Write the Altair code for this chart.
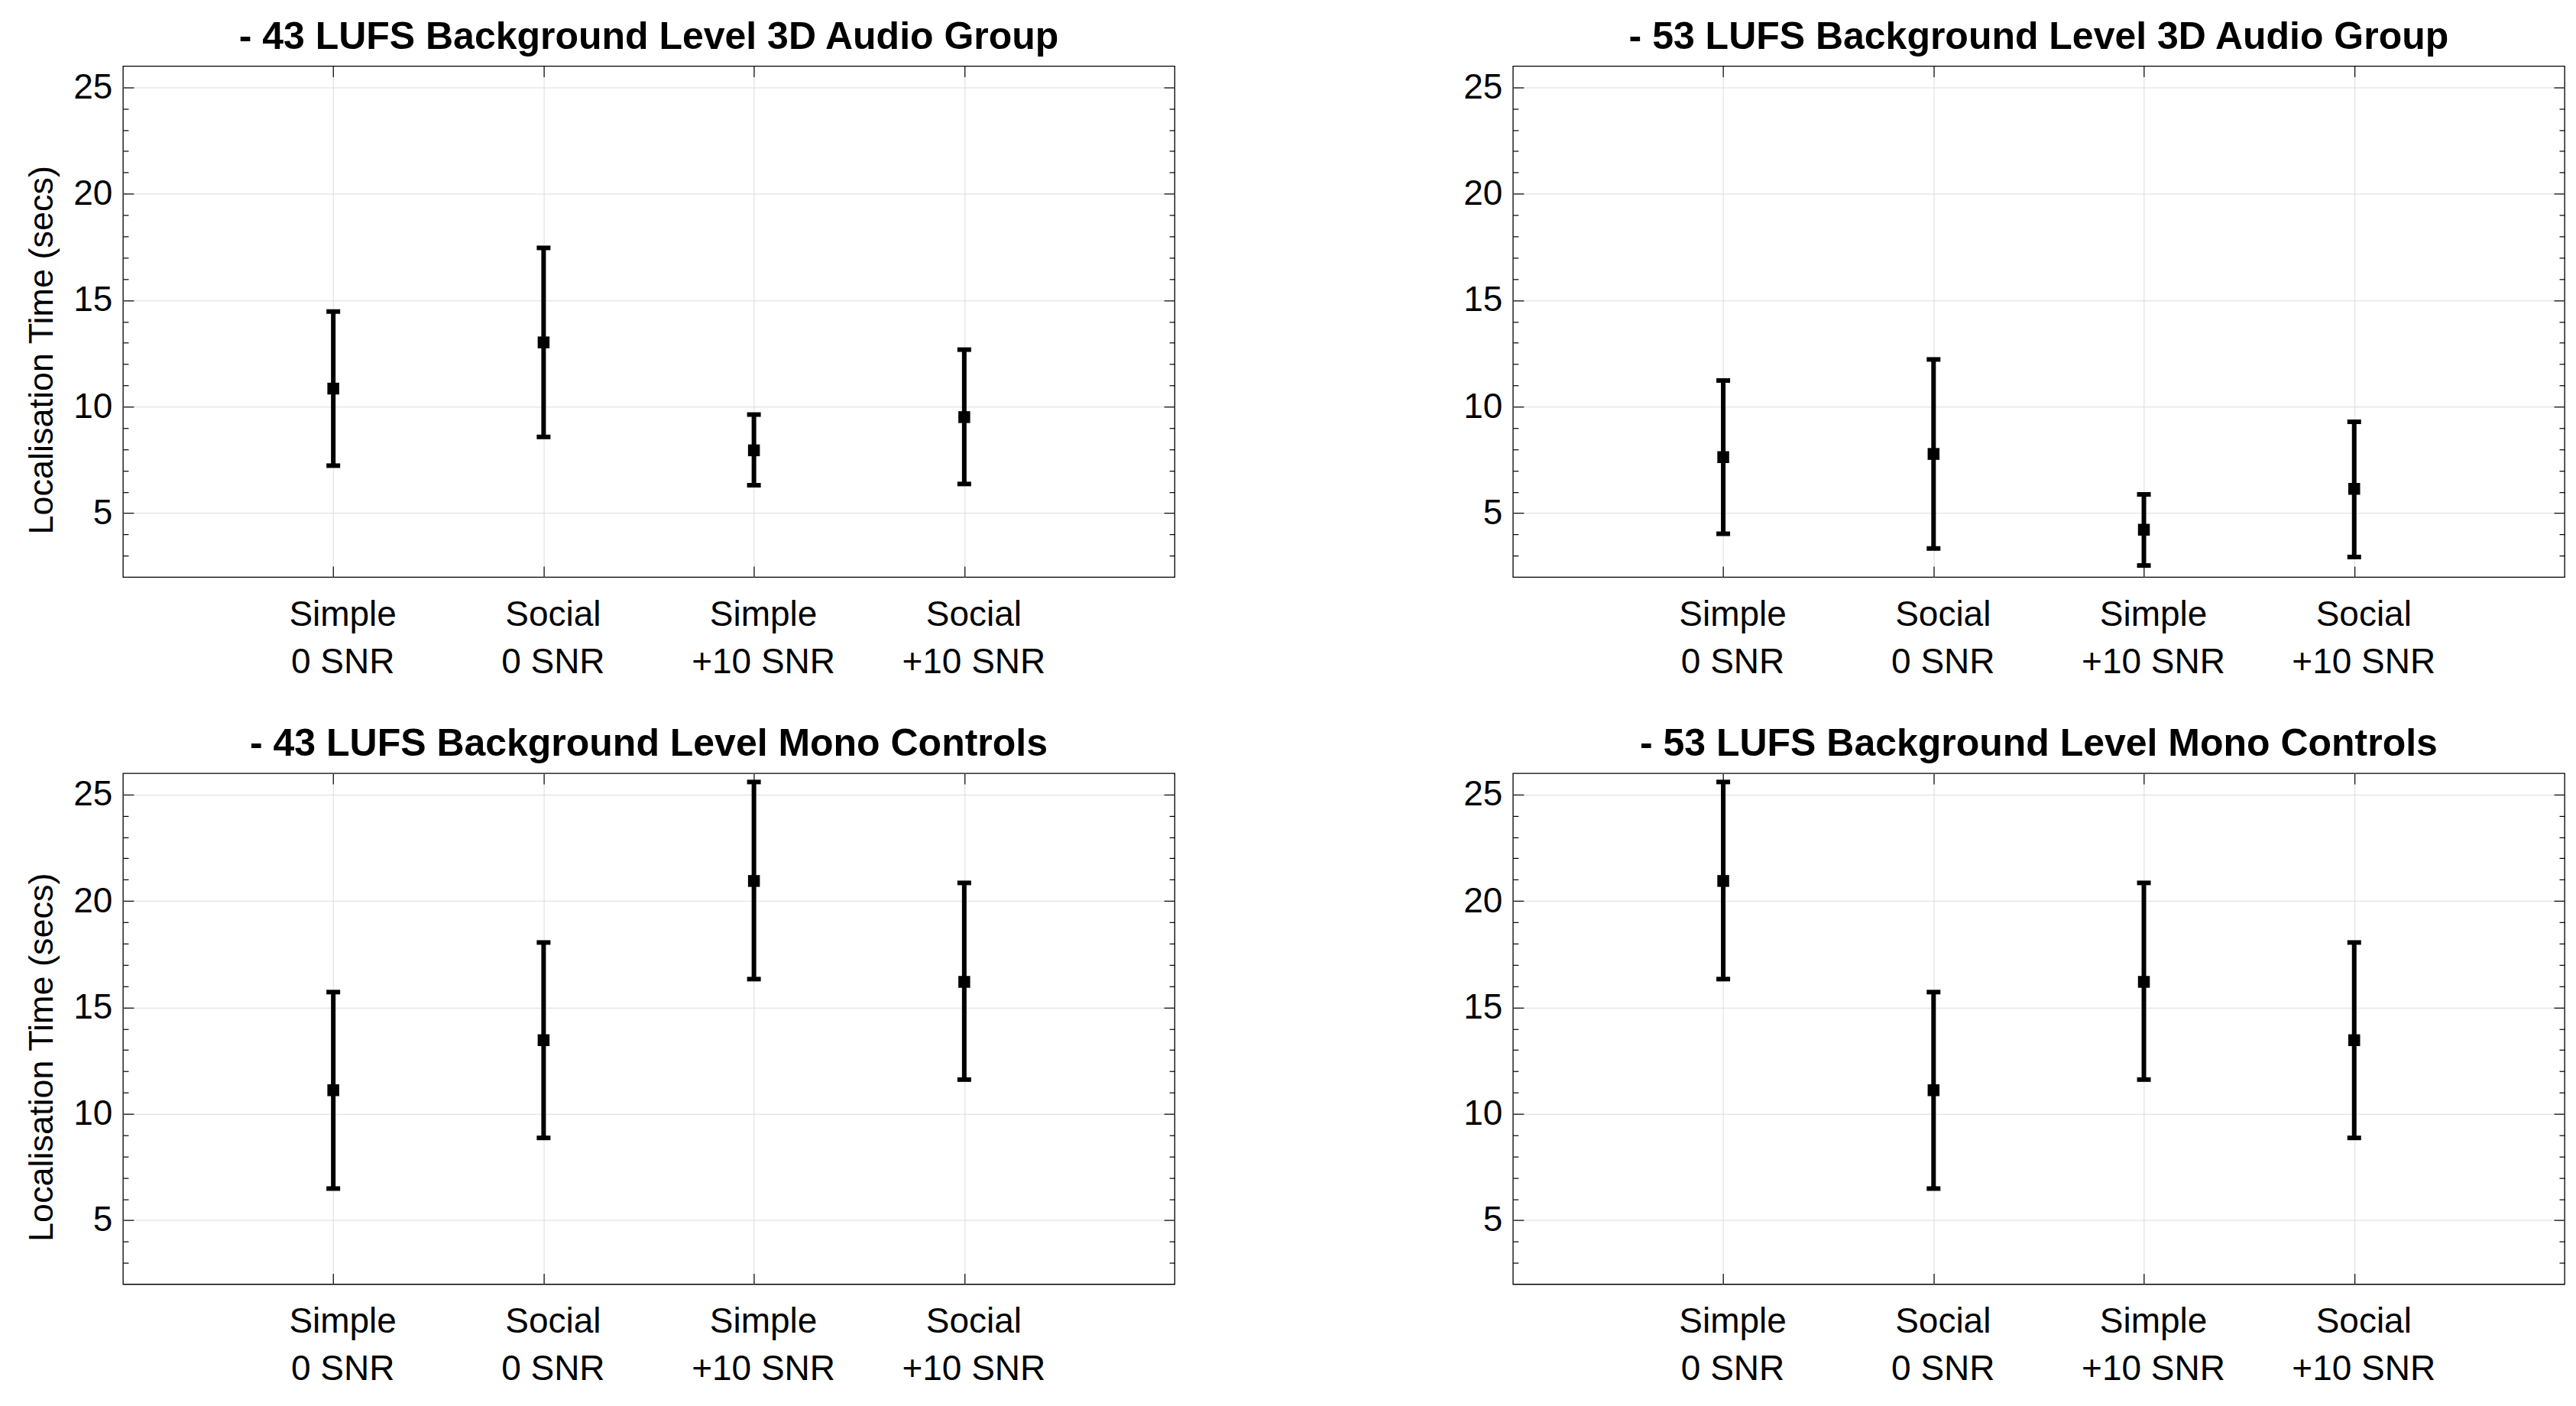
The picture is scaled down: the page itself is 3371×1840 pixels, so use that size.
import altair as alt
import pandas as pd

conditions = ["Simple|0 SNR", "Social|0 SNR", "Simple|+10 SNR", "Social|+10 SNR"]

titles = [
    "- 43 LUFS Background Level 3D Audio Group",
    "- 53 LUFS Background Level 3D Audio Group",
    "- 43 LUFS Background Level Mono Controls",
    "- 53 LUFS Background Level Mono Controls",
]

mean_3d_43 = [10.85, 13.02, 7.95, 9.51]
lo_3d_43 = [7.23, 8.58, 6.31, 6.37]
hi_3d_43 = [14.47, 17.46, 9.63, 12.68]

mean_3d_53 = [7.63, 7.78, 4.22, 6.14]
lo_3d_53 = [4.03, 3.34, 2.54, 2.94]
hi_3d_53 = [11.23, 12.22, 5.88, 9.29]

mean_mono_43 = [11.11, 13.46, 20.94, 16.20]
lo_mono_43 = [6.49, 8.87, 16.33, 11.61]
hi_mono_43 = [15.72, 18.05, 25.59, 20.85]

mean_mono_53 = [20.94, 11.11, 16.20, 13.46]
lo_mono_53 = [16.33, 6.49, 11.61, 8.87]
hi_mono_53 = [25.59, 15.72, 20.85, 18.05]

y_domain = [2, 26]
y_major = [5, 10, 15, 20, 25]
y_minor = [3, 4, 6, 7, 8, 9, 11, 12, 13, 14, 16, 17, 18, 19, 21, 22, 23, 24]
y_title = "Localisation Time (secs)"

W, H = 1377, 669
FONT = "Liberation Sans"
MAJ, MIN = 14, 7


def panel(title, mean, lo, hi, show_ytitle):
    df = pd.DataFrame({"cond": conditions, "mean": mean, "lo": lo, "hi": hi})
    base = alt.Chart(df)
    xs = alt.Scale(type="point", padding=1, domain=conditions)
    ys = alt.Scale(domain=y_domain, nice=False, zero=False)

    x_main = alt.X(
        "cond:N", scale=xs, sort=conditions,
        axis=alt.Axis(
            orient="bottom", offset=-MAJ, tickSize=MAJ, domain=False, grid=True,
            labelExpr="split(datum.label, '|')", labelAngle=0, labelPadding=27,
            labelLineHeight=62, labelFontSize=46, labelFont=FONT, labelColor="black",
            labelOffset=12, labelLimit=600, title=None,
        ),
    )
    y_kwargs = dict(
        orient="left", offset=-MAJ, tickSize=MAJ, values=y_major, domain=False,
        grid=True, labelPadding=14, labelFontSize=46, labelFont=FONT,
        labelColor="black",
    )
    if show_ytitle:
        y_kwargs.update(title=y_title, titleFontSize=45, titleFont=FONT,
                        titleFontWeight="normal", titleColor="black", titlePadding=18,
                        titleY=H / 2 + 37)
    else:
        y_kwargs.update(title=None)
    rule = base.mark_rule(strokeWidth=6, color="black").encode(
        x=x_main, y=alt.Y("lo:Q", scale=ys, axis=alt.Axis(**y_kwargs)), y2="hi:Q"
    )

    cap_lo = base.mark_tick(color="black", thickness=6, size=18, opacity=1).encode(
        x=alt.X("cond:N", scale=xs, sort=conditions,
                axis=alt.Axis(orient="top", offset=-MAJ, tickSize=MAJ, domain=False,
                              grid=False, labels=False, title=None)),
        y=alt.Y("lo:Q", scale=ys,
                axis=alt.Axis(orient="right", offset=-MAJ, tickSize=MAJ, values=y_major,
                              domain=False, grid=False, labels=False, title=None)),
    )
    cap_hi = base.mark_tick(color="black", thickness=6, size=18, opacity=1).encode(
        x=alt.X("cond:N", scale=xs, sort=conditions, axis=None),
        y=alt.Y("hi:Q", scale=ys,
                axis=alt.Axis(orient="left", offset=-MIN, tickSize=MIN, values=y_minor,
                              domain=False, grid=False, labels=False, title=None)),
    )
    pts = base.mark_square(size=240, color="black", opacity=1).encode(
        x=alt.X("cond:N", scale=xs, sort=conditions, axis=None),
        y=alt.Y("mean:Q", scale=ys,
                axis=alt.Axis(orient="right", offset=-MIN, tickSize=MIN, values=y_minor,
                              domain=False, grid=False, labels=False, title=None)),
    )
    return alt.layer(rule, cap_lo, cap_hi, pts).resolve_axis(
        x="independent", y="independent"
    ).properties(
        width=W, height=H,
        title=alt.TitleParams(title, fontSize=50, font=FONT, fontWeight="bold",
                              color="black", anchor="middle", frame="group",
                              baseline="alphabetic", offset=-28),
    )


p1 = panel(titles[0], mean_3d_43, lo_3d_43, hi_3d_43, True)
p2 = panel(titles[1], mean_3d_53, lo_3d_53, hi_3d_53, False)
p3 = panel(titles[2], mean_mono_43, lo_mono_43, hi_mono_43, True)
p4 = panel(titles[3], mean_mono_53, lo_mono_53, hi_mono_53, False)

chart = alt.vconcat(
    alt.hconcat(p1, p2, spacing=375),
    alt.hconcat(p3, p4, spacing=375),
    spacing=58,
).properties(
    padding={"left": 24, "top": 14, "right": 5, "bottom": 5},
    background="white",
).configure_view(
    stroke="black", strokeWidth=1.3
).configure_axis(
    tickColor="black", tickWidth=1.2, gridColor="#dcdcdc", gridWidth=1,
)

chart.save("out.html", embed_options={"renderer": "svg", "actions": False})
